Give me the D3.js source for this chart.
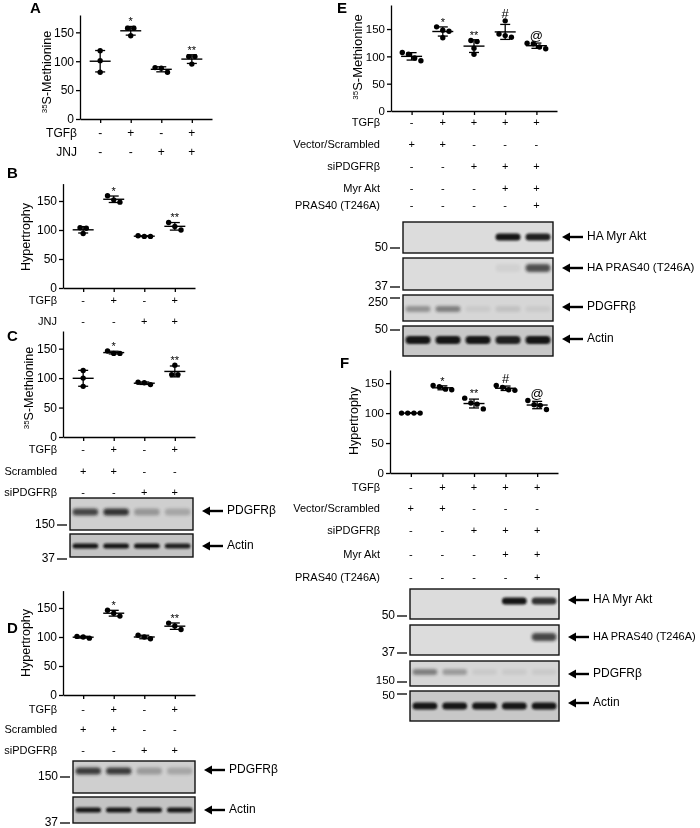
<!DOCTYPE html>
<html><head><meta charset="utf-8">
<script src="https://cdn.jsdelivr.net/npm/d3@7"></script>
<style>
body{margin:0;background:#fff}
svg{filter:grayscale(1)}
text{font-family:"Liberation Sans",Arial,Helvetica,sans-serif;fill:#000}
</style></head>
<body>
<svg id="fig" width="700" height="828"></svg>
<script>
// ---------------- DATA ----------------
const yTicks = [0, 50, 100, 150];
// Panel A: 35S-Methionine (TGFβ / JNJ)
const aValues = [[118, 101, 81], [157, 157, 144], [89, 88, 81], [108, 108, 95]];
const aMarks = ["", "*", "", "**"];
const aRows = [["TGFβ", "-", "+", "-", "+"], ["JNJ", "-", "-", "+", "+"]];
// Panel B: Hypertrophy (TGFβ / JNJ)
const bValues = [[104, 103, 94], [159, 152, 148], [90, 89, 89], [113, 106, 100]];
const bMarks = ["", "*", "", "**"];
const bRows = [["TGFβ", "-", "+", "-", "+"], ["JNJ", "-", "-", "+", "+"]];
// Panel C: 35S-Methionine (Scrambled / siPDGFRβ)
const cValues = [[113, 100, 86], [146, 142, 142], [93, 92, 89], [122, 106, 106]];
const cMarks = ["", "*", "", "**"];
const cRows = [["TGFβ", "-", "+", "-", "+"], ["Scrambled", "+", "+", "-", "-"], ["siPDGFRβ", "-", "-", "+", "+"]];
const cBlotPDGFR = [0.75, 0.85, 0.3, 0.22];
const cBlotActin = [1, 1, 1, 0.95];
// Panel D: Hypertrophy (Scrambled / siPDGFRβ)
const dValues = [[101, 100, 98], [146, 141, 136], [103, 100, 97], [124, 119, 113]];
const dMarks = ["", "*", "", "**"];
const dRows = [["TGFβ", "-", "+", "-", "+"], ["Scrambled", "+", "+", "-", "-"], ["siPDGFRβ", "-", "-", "+", "+"]];
const dBlotPDGFR = [0.8, 0.8, 0.28, 0.22];
const dBlotActin = [1, 1, 1, 1];
// Panel E: 35S-Methionine (5 conditions)
const eValues = [[107, 104, 97, 92], [154, 148, 146, 134], [129, 127, 115, 104], [165, 141, 138, 135], [124, 123, 117, 114]];
const eMarks = ["", "*", "**", "#", "@"];
const efRows = [
  ["TGFβ", "-", "+", "+", "+", "+"],
  ["Vector/Scrambled", "+", "+", "-", "-", "-"],
  ["siPDGFRβ", "-", "-", "+", "+", "+"],
  ["Myr Akt", "-", "-", "-", "+", "+"],
  ["PRAS40 (T246A)", "-", "-", "-", "-", "+"]
];
const eBlotMyrAkt = [0, 0, 0, 1, 0.95];
const eBlotPRAS40 = [0, 0, 0, 0.05, 0.7];
const eBlotPDGFR = [0.35, 0.45, 0.06, 0.1, 0.06];
const eBlotActin = [1, 1, 1, 0.95, 1];
// Panel F: Hypertrophy (5 conditions)
const fValues = [[100, 100, 100, 100], [146, 144, 139, 140], [125, 117, 115, 107], [146, 143, 138, 139], [121, 114, 113, 106]];
const fMarks = ["", "*", "**", "#", "@"];
const fBlotMyrAkt = [0, 0, 0, 1, 0.85];
const fBlotPRAS40 = [0, 0, 0, 0, 0.75];
const fBlotPDGFR = [0.45, 0.3, 0.06, 0.06, 0.06];
const fBlotActin = [1, 1, 1, 1, 1];
// Blot labels and molecular weight markers
const blotNames = ["HA Myr Akt", "HA PRAS40 (T246A)", "PDGFRβ", "Actin"];
const mwC = ["150", "37"];
const mwE = ["50", "37", "250", "50"];
const mwF = ["50", "37", "150", "50"];

// ---------------- DRAWING ----------------
const svg = d3.select("#fig");
const defs = svg.append("defs");
defs.append("filter").attr("id", "blur").attr("x", "-30%").attr("y", "-80%").attr("width", "160%").attr("height", "260%")
  .append("feGaussianBlur").attr("stdDeviation", 1.1);
defs.append("filter").attr("id", "blur2").attr("x", "-30%").attr("y", "-80%").attr("width", "160%").attr("height", "260%")
  .append("feGaussianBlur").attr("stdDeviation", 1.8);

function panelLetter(t, x, y) {
  svg.append("text").attr("x", x).attr("y", y).attr("font-size", 15).attr("font-weight", "bold").text(t);
}

function yLabel(kind, x, y, fs) {
  const t = svg.append("text").attr("transform", `translate(${x},${y}) rotate(-90)`)
    .attr("text-anchor", "middle").attr("font-size", fs || 12.5).attr("dominant-baseline", "middle");
  if (kind === "met") {
    t.append("tspan").attr("font-size", 8).attr("dy", -3).text("35");
    t.append("tspan").attr("dy", 3).text("S-Methionine");
  } else t.text("Hypertrophy");
}

function scatter(o) {
  const n = o.values.length;
  const x = d3.scalePoint().domain(d3.range(n)).range([o.x0, o.x1]).padding(0.66);
  const y = d3.scaleLinear().domain([0, o.ymax]).range([o.y0, o.y1]);
  const g = svg.append("g");
  const ya = g.append("g").attr("transform", `translate(${o.x0},0)`)
    .call(d3.axisLeft(y).tickValues(yTicks).tickSize(4).tickSizeOuter(0).tickPadding(2));
  const xa = g.append("g").attr("transform", `translate(0,${o.y0})`)
    .call(d3.axisBottom(x).tickSize(4).tickSizeOuter(0).tickFormat(""));
  [ya, xa].forEach(a => {
    a.selectAll("path,line").attr("stroke", "#000").attr("stroke-width", 1.3);
    a.selectAll("text").attr("font-size", o.tickFont || 12).attr("fill", "#000")
      .attr("font-family", '"Liberation Sans",Arial,sans-serif');
  });
  const r = 2.7;
  o.values.forEach((vals, i) => {
    const cx = x(i);
    const m = d3.mean(vals), sd = d3.deviation(vals) || 0;
    g.append("line").attr("x1", cx).attr("x2", cx).attr("y1", y(m - sd)).attr("y2", y(m + sd)).attr("stroke", "#000").attr("stroke-width", 1.3);
    [m - sd, m + sd].forEach(v => g.append("line").attr("x1", cx - 5).attr("x2", cx + 5).attr("y1", y(v)).attr("y2", y(v)).attr("stroke", "#000").attr("stroke-width", 1.3));
    g.append("line").attr("x1", cx - 10.5).attr("x2", cx + 10.5).attr("y1", y(m)).attr("y2", y(m)).attr("stroke", "#000").attr("stroke-width", 1.4);
    const sorted = vals.slice().sort((a, b) => b - a);
    const clusters = [];
    sorted.forEach(v => {
      const last = clusters[clusters.length - 1];
      if (last && Math.abs(y(last[last.length - 1]) - y(v)) < 2 * r * 0.9) last.push(v);
      else clusters.push([v]);
    });
    clusters.forEach(cl => cl.forEach((v, k) => {
      g.append("circle").attr("cx", cx + (k - (cl.length - 1) / 2) * (2 * r + 0.8)).attr("cy", y(v)).attr("r", r).attr("fill", "#000");
    }));
    if (o.marks[i]) {
      const top = Math.max(m + sd, d3.max(vals));
      const big = o.marks[i] === "#" || o.marks[i] === "@";
      g.append("text").attr("x", cx).attr("y", y(top) - (big ? 3 : 1)).attr("text-anchor", "middle")
        .attr("font-size", big ? 13 : 11).text(o.marks[i]);
    }
  });
  o.rows.forEach((row, ri) => {
    const ry = o.rowY[ri];
    g.append("text").attr("x", o.labelX).attr("y", ry).attr("text-anchor", "end").attr("dominant-baseline", "middle")
      .attr("font-size", o.rowFont || 11).text(row[0]);
    row.slice(1).forEach((s, i) => g.append("text").attr("x", x(i)).attr("y", ry).attr("text-anchor", "middle")
      .attr("dominant-baseline", "middle").attr("font-size", o.rowFont || 11).text(s));
  });
}

function blot(o) {
  const g = svg.append("g");
  g.append("rect").attr("x", o.x0).attr("y", o.y0).attr("width", o.x1 - o.x0).attr("height", o.y1 - o.y0)
    .attr("fill", o.bg).attr("stroke", "#111").attr("stroke-width", 1.4);
  const lx = d3.scaleBand().domain(d3.range(o.bands.length)).range([o.x0, o.x1]).paddingInner(0.1).paddingOuter(0.05);
  const clip = "clip" + Math.round(o.x0) + "_" + Math.round(o.y0);
  defs.append("clipPath").attr("id", clip).append("rect").attr("x", o.x0).attr("y", o.y0).attr("width", o.x1 - o.x0).attr("height", o.y1 - o.y0);
  const bg = g.append("g").attr("clip-path", `url(#${clip})`);
  o.bands.forEach((v, i) => {
    if (v <= 0) return;
    bg.append("rect").attr("x", lx(i) + 1).attr("y", o.bandY - o.bandH / 2).attr("width", lx.bandwidth() - 2)
      .attr("height", o.bandH).attr("rx", o.bandH / 2).attr("ry", o.bandH / 2)
      .attr("fill", "#151515").attr("opacity", v).attr("filter", o.soft ? "url(#blur2)" : "url(#blur)");
  });
  const ax0 = o.x1 + 9, ax1 = o.x1 + 30;
  g.append("line").attr("x1", ax0 + 4).attr("x2", ax1).attr("y1", o.labelY).attr("y2", o.labelY).attr("stroke", "#000").attr("stroke-width", 2.4);
  g.append("path").attr("d", `M${ax0},${o.labelY} l8,-4.5 l0,9 z`).attr("fill", "#000");
  g.append("text").attr("x", ax1 + 4).attr("y", o.labelY).attr("dominant-baseline", "middle")
    .attr("font-size", o.labelFont || 12).text(o.label);
  if (o.mw) {
    g.append("line").attr("x1", o.x0 - 13).attr("x2", o.x0 - 3).attr("y1", o.mwY).attr("y2", o.mwY).attr("stroke", "#000").attr("stroke-width", 1.3);
    g.append("text").attr("x", o.x0 - 15).attr("y", o.mwY + (o.mwUp ? 5 : 0) + (o.mwDy || 0)).attr("text-anchor", "end").attr("dominant-baseline", "middle")
      .attr("font-size", o.mwFont || 12).text(o.mw);
  }
}

// ---- Panel A ----
panelLetter("A", 30, 13);
yLabel("met", 48, 72);
scatter({values: aValues, marks: aMarks, rows: aRows, x0: 80, x1: 212, y0: 119, y1: 15, ymax: 180,
  rowY: [134, 153], labelX: 77, rowFont: 12, tickFont: 12});

// ---- Panel B ----
panelLetter("B", 7, 178);
yLabel("hyp", 27, 237);
scatter({values: bValues, marks: bMarks, rows: bRows, x0: 63, x1: 195, y0: 288, y1: 183.6, ymax: 180,
  rowY: [301.5, 322], labelX: 57});

// ---- Panel C ----
panelLetter("C", 7, 341);
yLabel("met", 30, 388);
scatter({values: cValues, marks: cMarks, rows: cRows, x0: 63, x1: 195, y0: 437, y1: 331, ymax: 180,
  rowY: [450, 472, 493], labelX: 57});
blot({x0: 70, x1: 193, y0: 498, y1: 530, bg: "#cfcfcf", bands: cBlotPDGFR, bandY: 512, bandH: 7, soft: true,
  label: blotNames[2], labelY: 511, mw: mwC[0], mwY: 525});
blot({x0: 70, x1: 193, y0: 534, y1: 557, bg: "#c4c4c4", bands: cBlotActin, bandY: 546, bandH: 5,
  label: blotNames[3], labelY: 546, mw: mwC[1], mwY: 559});

// ---- Panel D ----
panelLetter("D", 7, 633);
yLabel("hyp", 27, 643);
scatter({values: dValues, marks: dMarks, rows: dRows, x0: 63, x1: 195, y0: 695, y1: 590.6, ymax: 180,
  rowY: [710, 730, 751], labelX: 57});
blot({x0: 73, x1: 195, y0: 761, y1: 793, bg: "#cfcfcf", bands: dBlotPDGFR, bandY: 771, bandH: 7, soft: true,
  label: blotNames[2], labelY: 770, mw: mwC[0], mwY: 777});
blot({x0: 73, x1: 195, y0: 797, y1: 823, bg: "#c4c4c4", bands: dBlotActin, bandY: 810, bandH: 5,
  label: blotNames[3], labelY: 810, mw: mwC[1], mwY: 823});

// ---- Panel E ----
panelLetter("E", 337, 13);
yLabel("met", 359, 57, 13);
scatter({values: eValues, marks: eMarks, rows: efRows, x0: 391, x1: 557, y0: 111, y1: 5, ymax: 194,
  rowY: [123, 145, 167, 189, 206], labelX: 380, tickFont: 11.5});
blot({x0: 403, x1: 553, y0: 222, y1: 253, bg: "#dcdcdc", bands: eBlotMyrAkt, bandY: 237, bandH: 7,
  label: blotNames[0], labelY: 237, mw: mwE[0], mwY: 248});
blot({x0: 403, x1: 553, y0: 258, y1: 290, bg: "#dcdcdc", bands: eBlotPRAS40, bandY: 268, bandH: 8, soft: true,
  label: blotNames[1], labelY: 268, mw: mwE[1], mwY: 287, labelFont: 11.5});
blot({x0: 403, x1: 553, y0: 295, y1: 321, bg: "#d6d6d6", bands: eBlotPDGFR, bandY: 309, bandH: 6, soft: true,
  label: blotNames[2], labelY: 307, mw: mwE[2], mwY: 298, mwUp: true});
blot({x0: 403, x1: 553, y0: 326, y1: 356, bg: "#c8c8c8", bands: eBlotActin, bandY: 340, bandH: 8,
  label: blotNames[3], labelY: 339, mw: mwE[3], mwY: 330});

// ---- Panel F ----
panelLetter("F", 340, 368);
yLabel("hyp", 355, 421);
scatter({values: fValues, marks: fMarks, rows: efRows, x0: 390, x1: 558, y0: 473, y1: 370, ymax: 172,
  rowY: [488, 509, 531, 555, 578], labelX: 380, tickFont: 11.5});
blot({x0: 410, x1: 559, y0: 589, y1: 619, bg: "#dcdcdc", bands: fBlotMyrAkt, bandY: 601, bandH: 7,
  label: blotNames[0], labelY: 600, mw: mwF[0], mwY: 616});
blot({x0: 410, x1: 559, y0: 625, y1: 655, bg: "#dcdcdc", bands: fBlotPRAS40, bandY: 637, bandH: 8, soft: true,
  label: blotNames[1], labelY: 637, mw: mwF[1], mwY: 653, labelFont: 11});
blot({x0: 410, x1: 559, y0: 661, y1: 686, bg: "#d6d6d6", bands: fBlotPDGFR, bandY: 672, bandH: 6, soft: true,
  label: blotNames[2], labelY: 674, mw: mwF[2], mwY: 682, mwDy: -1, mwFont: 11.5});
blot({x0: 410, x1: 559, y0: 691, y1: 721, bg: "#c8c8c8", bands: fBlotActin, bandY: 706, bandH: 7,
  label: blotNames[3], labelY: 703, mw: mwF[3], mwY: 694, mwDy: 1.5, mwFont: 11.5});
</script>
</body></html>
